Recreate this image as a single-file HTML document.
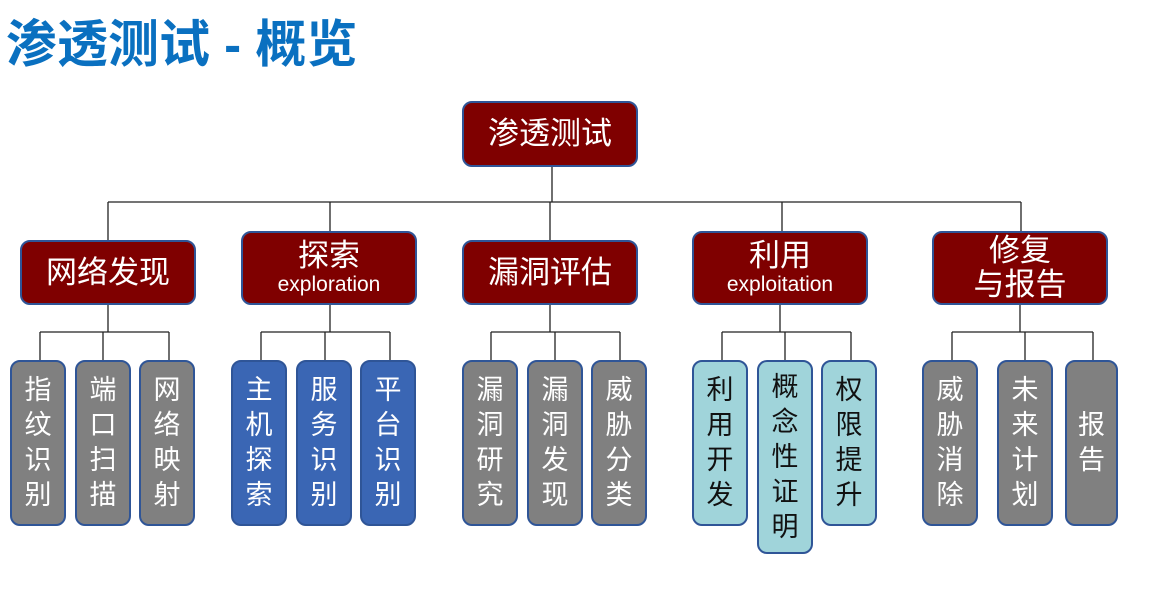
<!DOCTYPE html>
<html><head><meta charset="utf-8"><style>
body{margin:0;width:1165px;height:610px;background:#fff;position:relative;overflow:hidden;font-family:"Liberation Sans","Noto Sans CJK SC",sans-serif}
.t{position:absolute;left:6px;top:14px;font-size:51px;font-weight:bold;color:#0A70C0;letter-spacing:0px;line-height:62px}
.b{position:absolute;box-sizing:border-box;border:2px solid #2F5597;border-radius:10px;color:#fff;text-align:center;display:flex;flex-direction:column;justify-content:center;align-items:center}
.r{background:#7F0000;font-size:31px;line-height:34px}
.r small{font-size:21px;line-height:24px}
.c{font-size:27px;line-height:35px;top:360px;height:166px;width:56px}
.g{background:#808080}.bl{background:#3A66B4}.cy{background:#A0D4DA;color:#111}
</style></head><body>
<div class="t">渗透测试 - 概览</div>
<svg width="1165" height="610" style="position:absolute;left:0;top:0">
<g stroke="#222" stroke-width="1.3" fill="none">
<path d="M552 166V202M108 202H1021M108 202V240M330 202V231M550 202V240M782 202V231M1021 202V231"/>
<path d="M108 304V332M40 332H169M40 332V360M103 332V360M169 332V360"/>
<path d="M330 304V332M261 332H390M261 332V360M325 332V360M390 332V360"/>
<path d="M550 304V332M491 332H620M491 332V360M555 332V360M620 332V360"/>
<path d="M780 304V332M722 332H851M722 332V360M785 332V360M851 332V360"/>
<path d="M1020 304V332M952 332H1093M952 332V360M1025 332V360M1093 332V360"/>
</g></svg>
<div class="b r" style="left:462px;top:101px;width:176px;height:66px">渗透测试</div>
<div class="b r" style="left:20px;top:240px;width:176px;height:65px">网络发现</div>
<div class="b r" style="left:241px;top:231px;width:176px;height:74px">探索<small>exploration</small></div>
<div class="b r" style="left:462px;top:240px;width:176px;height:65px">漏洞评估</div>
<div class="b r" style="left:692px;top:231px;width:176px;height:74px">利用<small>exploitation</small></div>
<div class="b r" style="left:932px;top:231px;width:176px;height:74px">修复<br>与报告</div>

<div class="b c g" style="left:10px">指<br>纹<br>识<br>别</div>
<div class="b c g" style="left:75px">端<br>口<br>扫<br>描</div>
<div class="b c g" style="left:139px">网<br>络<br>映<br>射</div>
<div class="b c bl" style="left:231px">主<br>机<br>探<br>索</div>
<div class="b c bl" style="left:296px">服<br>务<br>识<br>别</div>
<div class="b c bl" style="left:360px">平<br>台<br>识<br>别</div>
<div class="b c g" style="left:462px">漏<br>洞<br>研<br>究</div>
<div class="b c g" style="left:527px">漏<br>洞<br>发<br>现</div>
<div class="b c g" style="left:591px">威<br>胁<br>分<br>类</div>
<div class="b c cy" style="left:692px">利<br>用<br>开<br>发</div>
<div class="b c cy" style="left:757px;height:194px">概<br>念<br>性<br>证<br>明</div>
<div class="b c cy" style="left:821px">权<br>限<br>提<br>升</div>
<div class="b c g" style="left:922px">威<br>胁<br>消<br>除</div>
<div class="b c g" style="left:997px">未<br>来<br>计<br>划</div>
<div class="b c g" style="left:1065px;width:53px">报<br>告</div>
</body></html>
